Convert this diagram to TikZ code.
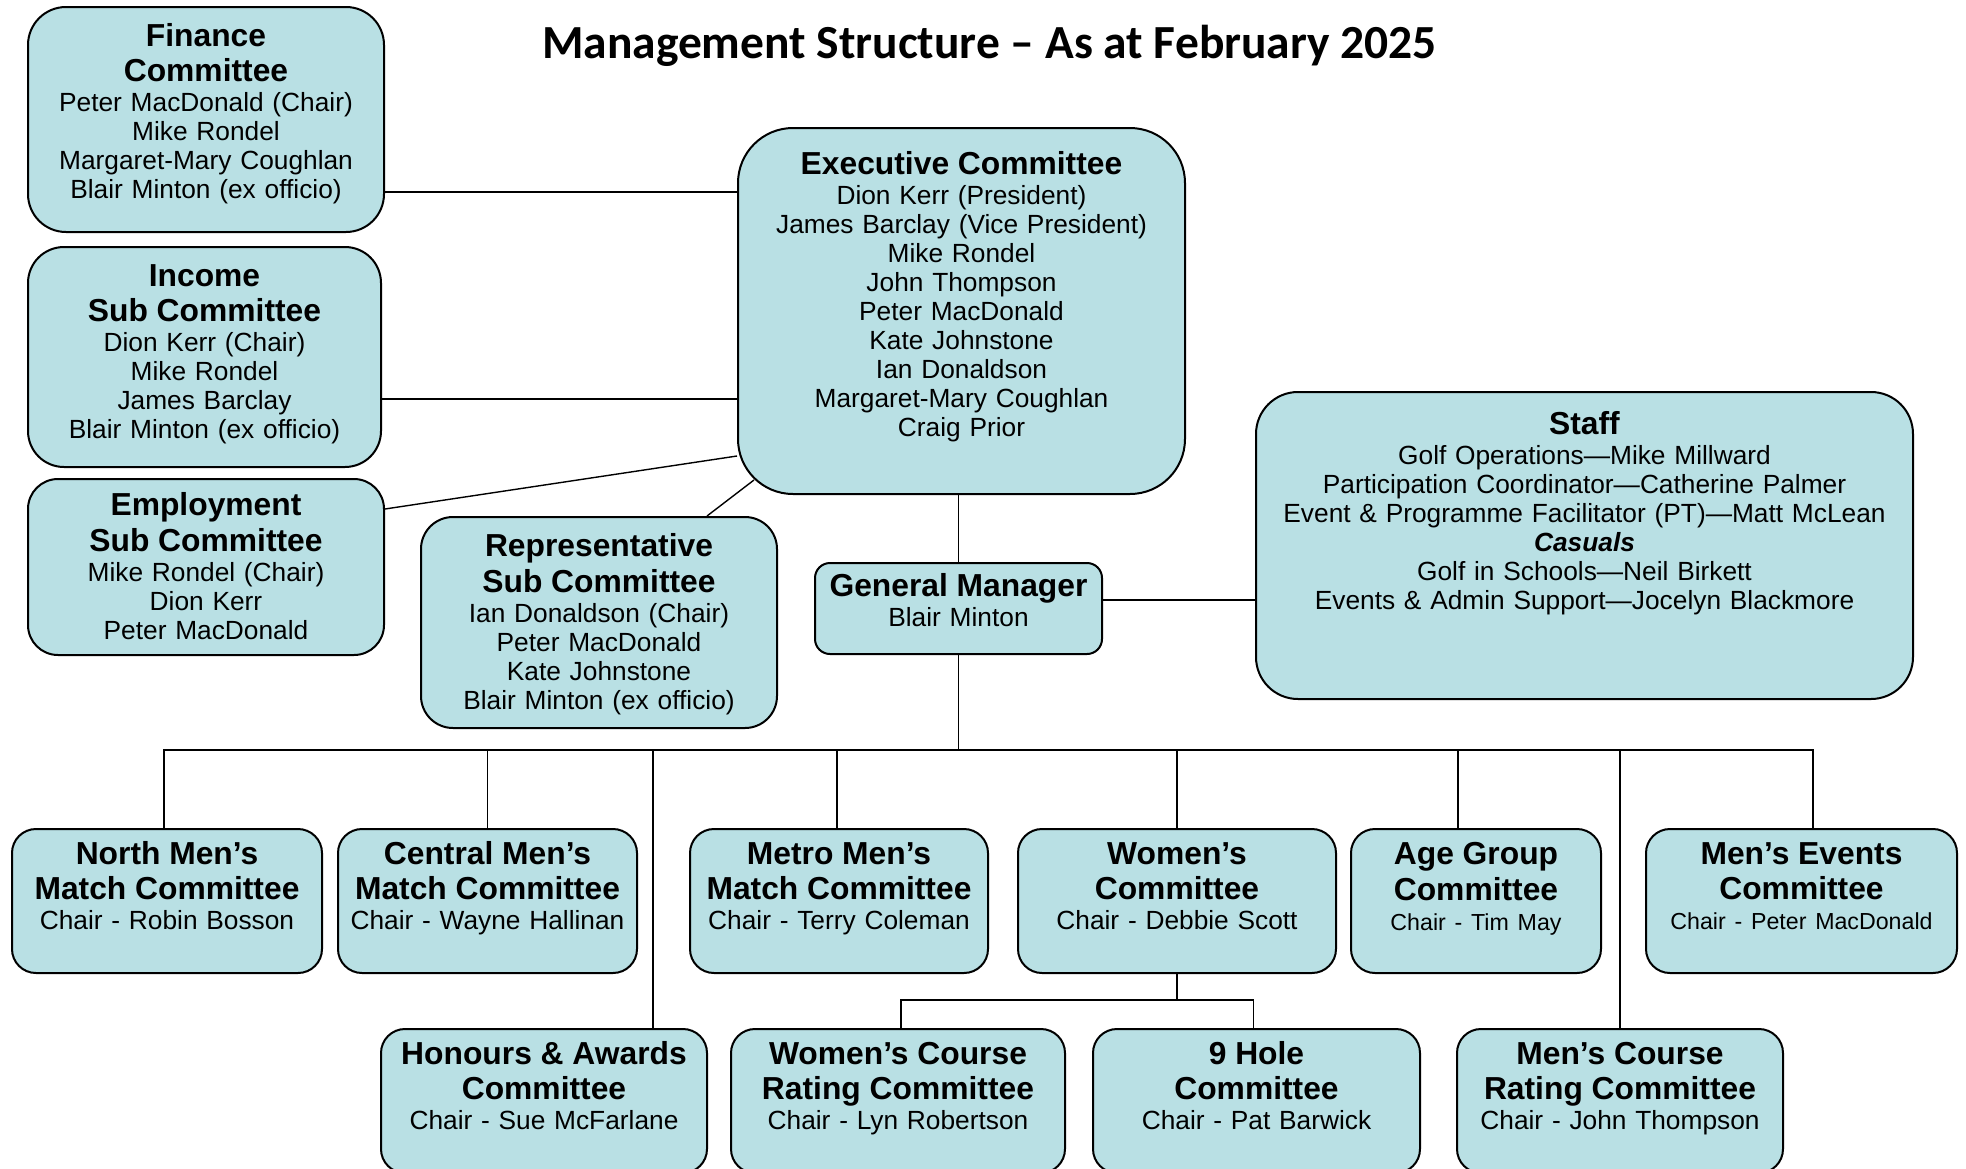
\documentclass[tikz,border=0pt]{standalone}
\usepackage{fontspec}
\setmainfont{Liberation Sans}
\newfontfamily\titlefont{Carlito}
\usetikzlibrary{calc}

\definecolor{boxfill}{RGB}{185,224,228}
\newcommand{\boxhead}{\bfseries\fontsize{31.8}{29}\selectfont}
\newcommand{\chairsmall}{\fontsize{23.2}{29}\selectfont}

\begin{document}
\begin{tikzpicture}[x=1pt, y=-1pt,
    box/.style={draw, fill=boxfill, line width=2pt, inner sep=0pt, anchor=north,
      align=center, font=\fontsize{26.3}{29}\selectfont},
    low/.style={box, rounded corners=24pt, text height=35pt, text depth=109pt},
    link/.style={line width=1.4pt}]
  \useasboundingbox (0,0) rectangle (1966,1168);

  % Title
  \node[anchor=base, font=\titlefont\bfseries\fontsize{47.5}{50}\selectfont] (title) at (989.5,58)
    {Management Structure – As at February 2025};

  % Committees on the left
  \node[box, rounded corners=38pt, text width=356pt, text height=39pt, text depth=186pt] (finance) at (206,6)
    {{\boxhead Finance}\\[6pt]{\boxhead Committee}\\[1pt]Peter MacDonald (Chair)\\Mike Rondel\\Margaret-Mary Coughlan\\Blair Minton (ex officio)};
  \node[box, rounded corners=36pt, text width=353pt, text height=39pt, text depth=181pt] (income) at (204.5,246)
    {{\boxhead Income}\\[6pt]{\boxhead Sub Committee}\\[1pt]Dion Kerr (Chair)\\Mike Rondel\\James Barclay\\Blair Minton (ex officio)};
  \node[box, rounded corners=30pt, text width=356pt, text height=36pt, text depth=140pt] (employ) at (206,478)
    {{\boxhead Employment}\\[6pt]{\boxhead Sub Committee}\\[1pt]Mike Rondel (Chair)\\Dion Kerr\\Peter MacDonald};
  \node[box, rounded corners=32pt, text width=356pt, text height=39pt, text depth=172pt] (rep) at (599,516)
    {{\boxhead Representative}\\[6pt]{\boxhead Sub Committee}\\[1pt]Ian Donaldson (Chair)\\Peter MacDonald\\Kate Johnstone\\Blair Minton (ex officio)};

  % Executive, manager and staff
  \node[box, rounded corners=55pt, text width=447pt, text height=46pt, text depth=320pt] (exec) at (961.5,127)
    {{\boxhead Executive Committee}\\[1pt]Dion Kerr (President)\\James Barclay (Vice President)\\Mike Rondel\\John Thompson\\Peter MacDonald\\Kate Johnstone\\Ian Donaldson\\Margaret-Mary Coughlan\\Craig Prior};
  \node[box, rounded corners=15pt, text width=287pt, text height=33pt, text depth=58pt] (gm) at (958.5,562)
    {{\boxhead General Manager}\\[1pt]Blair Minton};
  \node[box, rounded corners=42pt, text width=657pt, text height=42pt, text depth=265pt] (staff) at (1584.5,391)
    {{\boxhead Staff}\\[1pt]Golf Operations—Mike Millward\\Participation Coordinator—Catherine Palmer\\Event \& Programme Facilitator (PT)—Matt McLean\\\textbf{\textit{Casuals}}\\Golf in Schools—Neil Birkett\\Events \& Admin Support—Jocelyn Blackmore};

  % First row of committees
  \node[low, text width=310pt] (north) at (167,828)
    {{\boxhead North Men’s}\\[6pt]{\boxhead Match Committee}\\[1pt]Chair - Robin Bosson};
  \node[low, text width=299pt] (central) at (487.5,828)
    {{\boxhead Central Men’s}\\[6pt]{\boxhead Match Committee}\\[1pt]Chair - Wayne Hallinan};
  \node[low, text width=298pt] (metro) at (839,828)
    {{\boxhead Metro Men’s}\\[6pt]{\boxhead Match Committee}\\[1pt]Chair - Terry Coleman};
  \node[low, text width=318pt] (women) at (1177,828)
    {{\boxhead Women’s}\\[6pt]{\boxhead Committee}\\[1pt]Chair - Debbie Scott};
  \node[low, text width=250pt] (age) at (1476,828)
    {{\boxhead Age Group}\\[6pt]{\boxhead Committee}\\[1pt]{\chairsmall Chair - Tim May}};
  \node[low, text width=311pt] (mevents) at (1801.5,828)
    {{\boxhead Men’s Events}\\[6pt]{\boxhead Committee}\\[1pt]{\chairsmall Chair - Peter MacDonald}};

  % Second row of committees
  \node[low, text width=326pt] (honours) at (544,1028)
    {{\boxhead Honours \& Awards}\\[6pt]{\boxhead Committee}\\[1pt]Chair - Sue McFarlane};
  \node[low, text width=334pt] (wcourse) at (898,1028)
    {{\boxhead Women’s Course}\\[6pt]{\boxhead Rating Committee}\\[1pt]Chair - Lyn Robertson};
  \node[low, text width=327pt] (nine) at (1256.5,1028)
    {{\boxhead 9 Hole}\\[6pt]{\boxhead Committee}\\[1pt]Chair - Pat Barwick};
  \node[low, text width=326pt] (mcourse) at (1620,1028)
    {{\boxhead Men’s Course}\\[6pt]{\boxhead Rating Committee}\\[1pt]Chair - John Thompson};

  % Define the levels of the lines
  \coordinate (finY) at (0,192);
  \coordinate (incY) at (0,399);
  \coordinate (staffY) at (0,600);
  \coordinate (bus) at ($(gm.south)+(0,95)$);
  \coordinate (wsub) at ($(women.south)+(0,26)$);

  % Draw the lines
  \draw[link] (finance.east |- finY) -- (exec.west |- finY);
  \draw[link] (income.east |- incY) -- (exec.west |- incY);
  \draw[link] ($(employ.north east)+(0,31)$) -- ($(exec.south west)+(0,-39)$);
  \draw[link] ($(rep.north)+(108,0)$) -- ($(exec.south west)+(17,-15)$);
  \draw[link] (gm.north) -- (gm.north |- exec.south);
  \draw[link] (gm.east |- staffY) -- (staff.west |- staffY);
  \draw[link] (gm.south) -- (bus);
  \foreach \nd/\dx in {north/-3, central/0, metro/-2, women/0, age/-18, mevents/11.5, honours/109, mcourse/0}
    \draw[link] ($(\nd.north)+(\dx,0)$) |- (bus);
  \draw[link] (women.south) -- (wsub);
  \foreach \nd/\dx in {wcourse/3, nine/-3}
    \draw[link] ($(\nd.north)+(\dx,0)$) |- (wsub);
\end{tikzpicture}
\end{document}
